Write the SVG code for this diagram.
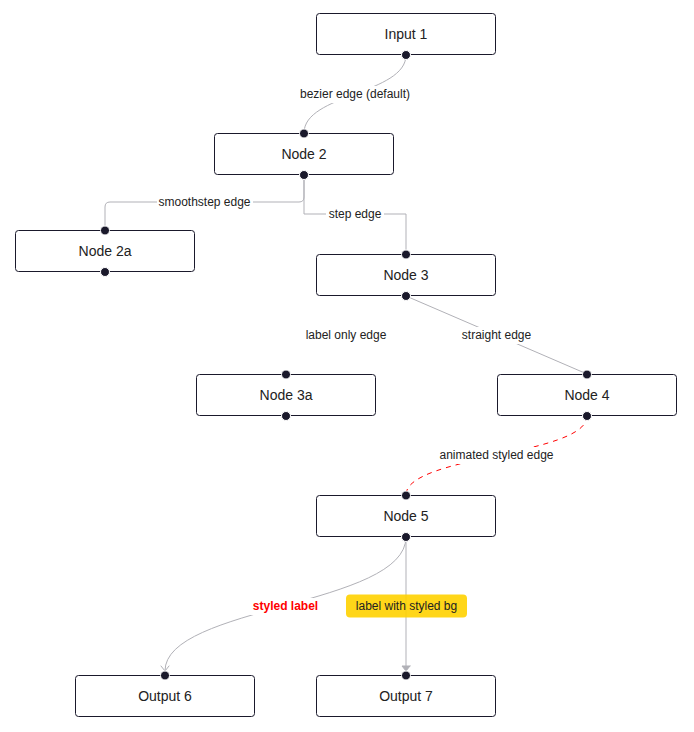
<svg xmlns="http://www.w3.org/2000/svg" width="694" height="732" viewBox="0 0 694 732">
<style>
.node rect.box{fill:#fff;stroke:#1a192b;stroke-width:1}
.node text{font-family:"Liberation Sans",Arial,sans-serif;font-size:14px;fill:#222;text-anchor:middle}
.h{fill:#1a192b;stroke:#fff;stroke-width:1}
.edge{fill:none;stroke:#b1b1b7;stroke-width:1}
.lbg{fill:#fff}
.lt{font-family:"Liberation Sans",Arial,sans-serif;font-size:12px;fill:#222;text-anchor:middle}
</style>
<defs>
<marker id="arrow" viewBox="-10 -10 20 20" markerWidth="20" markerHeight="20" markerUnits="userSpaceOnUse" refX="0" refY="0" orient="auto">
<polyline points="-5,-4 0,0 -5,4" fill="none" stroke="#b1b1b7" stroke-width="1" stroke-linecap="round" stroke-linejoin="round"/>
</marker>
<marker id="arrowclosed" viewBox="-10 -10 20 20" markerWidth="20" markerHeight="20" markerUnits="userSpaceOnUse" refX="0" refY="0" orient="auto">
<polyline points="-5,-4 0,0 -5,4 -5,-4" fill="#b1b1b7" stroke="#b1b1b7" stroke-width="1" stroke-linecap="round" stroke-linejoin="round"/>
</marker>
</defs>
<rect width="694" height="732" fill="#fff"/>
<g id="connectors">
<path class="edge" d="M406,55 C406,94 304,94 304,133"/>
<path class="edge" d="M304,175 L304,197 Q304,202 299,202 L110,202 Q105,202 105,207 L105,230"/>
<path class="edge" d="M304,175 L304,214 L406,214 L406,254"/>
<path class="edge" d="M406,296 L587,374"/>
<path class="edge" d="M587,416 C587,455.5 406,455.5 406,495" style="stroke:#ff0000;stroke-dasharray:5"/>
<path class="edge" d="M406,537 C406,606 165,606 165,671" marker-end="url(#arrow)"/>
<path class="edge" d="M406,537 L406,671" marker-end="url(#arrowclosed)"/>
<g id="label-bezier"><rect class="lbg" x="299" y="86" width="112" height="17"/><text class="lt" x="355" y="98.3">bezier edge (default)</text></g>
<g id="label-smoothstep"><rect class="lbg" x="157" y="194" width="96" height="17"/><text class="lt" x="204.5" y="206.3">smoothstep edge</text></g>
<g id="label-step"><rect class="lbg" x="326" y="206" width="58" height="17"/><text class="lt" x="355" y="218.3">step edge</text></g>
<g id="label-only"><text class="lt" x="346" y="339.3">label only edge</text></g>
<g id="label-straight"><rect class="lbg" x="464" y="327" width="65" height="17"/><text class="lt" x="496.5" y="339.3">straight edge</text></g>
<g id="label-animated"><rect class="lbg" x="438" y="447" width="117" height="17"/><text class="lt" x="496.5" y="459.3">animated styled edge</text></g>
<g id="label-styled"><rect class="lbg" x="250" y="598" width="71" height="17"/><text class="lt" x="285.5" y="610.3" style="fill:#ff0000;font-weight:700">styled label</text></g>
<g id="label-bg"><rect x="346" y="594.5" width="121" height="23" rx="4" fill="#FFD200" fill-opacity="0.9"/><text class="lt" x="406.5" y="610.3">label with styled bg</text></g>
</g>
<g id="input1" class="node"><rect class="box" x="316.5" y="13.5" width="179" height="41" rx="3"/><text x="406" y="39">Input 1</text><circle class="h" cx="406" cy="55" r="4.5"/></g>
<g id="node2" class="node"><rect class="box" x="214.5" y="133.5" width="179" height="41" rx="3"/><text x="304" y="159">Node 2</text><circle class="h" cx="304" cy="133.5" r="4.5"/><circle class="h" cx="304" cy="175" r="4.5"/></g>
<g id="node2a" class="node"><rect class="box" x="15.5" y="230.5" width="179" height="41" rx="3"/><text x="105" y="256">Node 2a</text><circle class="h" cx="105" cy="230.5" r="4.5"/><circle class="h" cx="105" cy="272" r="4.5"/></g>
<g id="node3" class="node"><rect class="box" x="316.5" y="254.5" width="179" height="41" rx="3"/><text x="406" y="280">Node 3</text><circle class="h" cx="406" cy="254.5" r="4.5"/><circle class="h" cx="406" cy="296" r="4.5"/></g>
<g id="node3a" class="node"><rect class="box" x="196.5" y="374.5" width="179" height="41" rx="3"/><text x="286" y="400">Node 3a</text><circle class="h" cx="286" cy="374.5" r="4.5"/><circle class="h" cx="286" cy="416" r="4.5"/></g>
<g id="node4" class="node"><rect class="box" x="497.5" y="374.5" width="179" height="41" rx="3"/><text x="587" y="400">Node 4</text><circle class="h" cx="587" cy="374.5" r="4.5"/><circle class="h" cx="587" cy="416" r="4.5"/></g>
<g id="node5" class="node"><rect class="box" x="316.5" y="495.5" width="179" height="41" rx="3"/><text x="406" y="521">Node 5</text><circle class="h" cx="406" cy="495.5" r="4.5"/><circle class="h" cx="406" cy="537" r="4.5"/></g>
<g id="output6" class="node"><rect class="box" x="75.5" y="675.5" width="179" height="41" rx="3"/><text x="165" y="701">Output 6</text><circle class="h" cx="165" cy="675.5" r="4.5"/></g>
<g id="output7" class="node"><rect class="box" x="316.5" y="675.5" width="179" height="41" rx="3"/><text x="406" y="701">Output 7</text><circle class="h" cx="406" cy="675.5" r="4.5"/></g>
</svg>
